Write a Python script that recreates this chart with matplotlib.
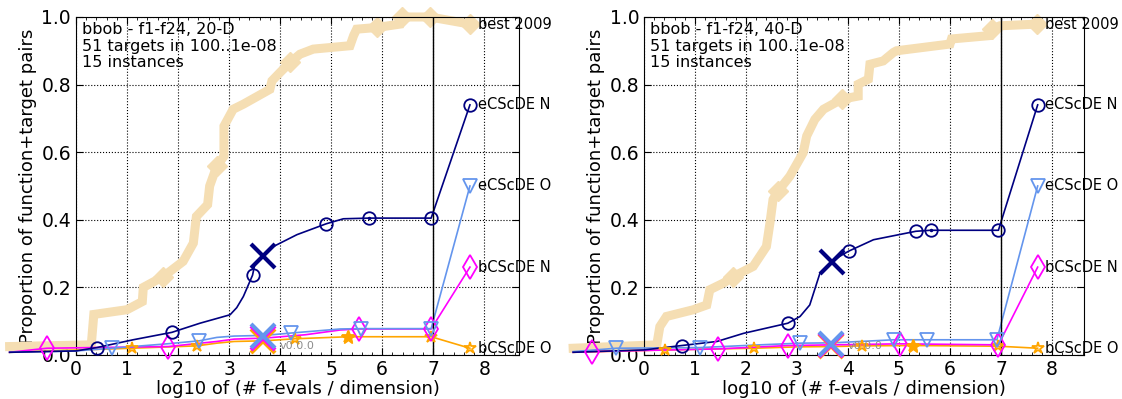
import numpy as np
import matplotlib
matplotlib.use('Agg')
import matplotlib.pyplot as plt
from matplotlib.ticker import MultipleLocator

# ---- data (x = log10(#f-evals / dim), y = proportion) ----
panel_titles = ['bbob - f1-f24, 20-D', 'bbob - f1-f24, 40-D']
panel_info = '51 targets in 100..1e-08\n15 instances'

label_names = ['best 2009', 'eCScDE N', 'eCScDE O', 'bCScDE N', 'bCScDE O']
label_y = [0.979, 0.74, 0.50, 0.26, 0.02]

# 20-D
best20_x = [-1.3, 0.3, 0.35, 1.0, 1.3, 1.32, 1.71, 2.1, 2.3, 2.36, 2.58, 2.62, 2.76, 2.9,
            2.9, 3.08, 3.28, 3.8, 3.84, 4.0, 4.2, 4.39, 4.65, 5.37, 5.44, 5.5, 5.9, 6.35,
            6.39, 6.94, 7.72]
best20_y = [0.025, 0.03, 0.12, 0.134, 0.158, 0.2, 0.232, 0.277, 0.331, 0.41, 0.445, 0.5,
            0.559, 0.588, 0.677, 0.727, 0.742, 0.786, 0.811, 0.836, 0.866, 0.89, 0.905,
            0.915, 0.945, 0.964, 0.969, 0.979, 1.0, 1.0, 0.979]
best20_mx = [1.71, 2.76, 4.2, 5.9, 6.39, 6.94, 7.72]
best20_my = [0.232, 0.559, 0.866, 0.969, 1.0, 1.0, 0.979]

eN20_x = [-1.3, 0.0, 0.41, 1.12, 1.88, 2.43, 3.02, 3.15, 3.28, 3.46, 3.51, 3.67, 3.87,
          4.33, 4.9, 5.24, 5.75, 6.96, 7.72]
eN20_y = [0.008, 0.012, 0.022, 0.045, 0.067, 0.094, 0.119, 0.14, 0.173, 0.236, 0.272,
          0.294, 0.321, 0.356, 0.388, 0.403, 0.405, 0.405, 0.74]
eN20_mx = [0.41, 1.88, 3.46, 4.9, 5.75, 6.96, 7.72]
eN20_my = [0.022, 0.067, 0.236, 0.388, 0.405, 0.405, 0.74]

eO20_x = [-1.3, 0.0, 0.7, 1.78, 2.42, 2.76, 3.1, 3.7, 4.22, 5.18, 5.59, 6.96, 7.72]
eO20_y = [0.008, 0.012, 0.02, 0.033, 0.042, 0.052, 0.056, 0.058, 0.065, 0.077, 0.078,
          0.078, 0.5]
eO20_mx = [0.7, 2.42, 4.22, 5.59, 6.96, 7.72]
eO20_my = [0.02, 0.042, 0.065, 0.078, 0.078, 0.5]

bN20_x = [-1.3, -0.57, 1.81, 2.76, 3.1, 3.7, 4.5, 5.18, 5.54, 6.96, 7.72]
bN20_y = [0.008, 0.02, 0.025, 0.04, 0.047, 0.05, 0.06, 0.074, 0.077, 0.077, 0.26]
bN20_mx = [-0.57, 1.81, 5.54, 6.96, 7.72]
bN20_my = [0.02, 0.025, 0.077, 0.077, 0.26]

bO20_x = [-1.3, 1.09, 2.37, 2.76, 3.1, 3.7, 4.29, 5.34, 6.96, 7.72]
bO20_y = [0.008, 0.02, 0.027, 0.035, 0.04, 0.042, 0.048, 0.054, 0.054, 0.02]
bO20_mx = [1.09, 2.37, 4.29, 5.34, 6.96, 7.72]
bO20_my = [0.02, 0.027, 0.048, 0.054, 0.054, 0.02]

# median budget crosses, 20-D: eN, eO, bN, bO
cross20_x = [3.67, 3.67, 3.67, 3.67]
cross20_y = [0.294, 0.056, 0.05, 0.042]

# 40-D
best40_x = [-1.39, 0.25, 0.31, 0.44, 0.97, 1.23, 1.29, 1.56, 1.75, 2.14, 2.4, 2.47, 2.53,
            2.63, 2.86, 3.12, 3.19, 3.35, 3.52, 3.88, 4.2, 4.2, 4.4, 4.43, 4.69, 4.89,
            4.95, 6.0, 6.03, 6.78, 6.82, 6.98, 7.7]
best40_y = [0.02, 0.03, 0.084, 0.114, 0.134, 0.148, 0.193, 0.213, 0.232, 0.262, 0.321,
            0.391, 0.46, 0.485, 0.529, 0.598, 0.648, 0.697, 0.727, 0.757, 0.766, 0.801,
            0.816, 0.86, 0.87, 0.895, 0.9, 0.92, 0.935, 0.945, 0.964, 0.974, 0.979]
best40_mx = [1.75, 2.63, 3.88, 6.82, 7.7]
best40_my = [0.232, 0.485, 0.757, 0.964, 0.979]

eN40_x = [-1.39, 0.0, 0.74, 1.43, 1.95, 2.82, 3.06, 3.25, 3.45, 3.68, 3.84, 4.01, 4.5,
          5.33, 5.62, 6.95, 7.72]
eN40_y = [0.008, 0.015, 0.028, 0.04, 0.064, 0.094, 0.114, 0.148, 0.242, 0.274, 0.292,
          0.307, 0.341, 0.366, 0.369, 0.369, 0.74]
eN40_mx = [0.74, 2.82, 4.01, 5.33, 5.62, 6.95, 7.72]
eN40_my = [0.028, 0.094, 0.307, 0.366, 0.369, 0.369, 0.74]

eO40_x = [-1.39, -0.54, 1.1, 2.27, 3.06, 3.7, 4.9, 5.54, 6.92, 7.72]
eO40_y = [0.01, 0.02, 0.022, 0.03, 0.035, 0.036, 0.045, 0.045, 0.045, 0.5]
eO40_mx = [-0.54, 1.1, 3.06, 4.9, 5.54, 6.92, 7.72]
eO40_my = [0.02, 0.022, 0.035, 0.045, 0.045, 0.045, 0.5]

bN40_x = [-1.39, -1.03, 1.46, 2.82, 3.7, 5.02, 6.95, 7.72]
bN40_y = [0.008, 0.01, 0.018, 0.028, 0.03, 0.033, 0.03, 0.26]
bN40_mx = [-1.03, 1.46, 2.82, 5.02, 6.95, 7.72]
bN40_my = [0.01, 0.018, 0.028, 0.033, 0.03, 0.26]

bO40_x = [-1.39, 0.41, 2.16, 3.0, 3.7, 4.27, 5.27, 6.95, 7.72]
bO40_y = [0.008, 0.015, 0.02, 0.024, 0.025, 0.027, 0.028, 0.026, 0.02]
bO40_mx = [0.41, 2.16, 4.27, 5.27, 6.95, 7.72]
bO40_my = [0.015, 0.02, 0.027, 0.028, 0.026, 0.02]

cross40_x = [3.68, 3.66, 3.66, 3.66]
cross40_y = [0.274, 0.032, 0.03, 0.028]

# filled marker that sits on top of the open ones (x of eN dot, x of bO filled star)
dot_x = [5.75, 5.62]
star_x = [5.34, 5.27]

colors = ['navy', 'cornflowerblue', 'magenta', 'orange']
markers = ['o', 'v', 'd', '*']
msizes = [9, 9.5, 12, 9]
best_color = 'wheat'


def draw_panel(ax, title, best, algs, cross, dotx, starx):
    bx, by, bmx, bmy = best
    ax.plot(bx, by, '-', color=best_color, lw=6.5, clip_on=False, zorder=2,
            solid_joinstyle='miter')
    ax.plot(bmx, bmy, 'D', color=best_color, ms=10, clip_on=False, zorder=2)

    # draw in reverse so navy ends on top
    for i in reversed(range(4)):
        lx, ly, mx, my = algs[i]
        ax.plot(lx, ly, '-', color=colors[i], lw=1.2, clip_on=False, zorder=3)
        ax.plot(mx, my, markers[i], ms=msizes[i], mfc='none', mec=colors[i],
                mew=1.3, clip_on=False, zorder=4)
    for i in [3, 2, 1, 0]:
        ax.plot(cross[0][i], cross[1][i], 'x', ms=17, mew=3, color=colors[i],
                clip_on=False, zorder=5)

    # small extra markers drawn over
    i_dot = algs[0][2].index(dotx)
    ax.plot(dotx, algs[0][3][i_dot], '.', ms=3, color='navy', zorder=5)
    i_star = algs[3][2].index(starx)
    ax.plot(starx, algs[3][3][i_star], '*', ms=10, color='orange', zorder=5)

    ax.axvline(7, color='k', lw=1, zorder=3)

    for name, yy in zip(label_names, label_y):
        ax.text(7.87, yy, name, fontsize=10.5, va='center', ha='left', zorder=6,
                clip_on=False)

    ax.text(4.0, 0.028, 'v0.0.0', fontsize=8, color='0.55', va='center', ha='left',
            zorder=6)
    ax.text(0.013, 0.985, title + '\n' + panel_info, transform=ax.transAxes,
            fontsize=11.5, va='top', ha='left', linespacing=1.12, zorder=6)

    ax.set_ylim(0, 1.0)
    ax.xaxis.set_major_locator(MultipleLocator(1))
    ax.xaxis.set_minor_locator(MultipleLocator(0.2))
    ax.yaxis.set_major_locator(MultipleLocator(0.2))
    ax.tick_params(which='both', direction='in', top=True, right=True,
                   labelsize=13.5)
    ax.tick_params(which='major', length=5)
    ax.tick_params(which='minor', length=2.5)
    ax.grid(True, which='major', linestyle=':', color='k', lw=0.8)
    ax.set_axisbelow(True)
    ax.set_xlabel('log10 of (# f-evals / dimension)', fontsize=13, labelpad=1)
    ax.set_ylabel('Proportion of function+target pairs', fontsize=13, labelpad=3)


fig = plt.figure(figsize=(11.22, 3.99), dpi=100)
ax1 = fig.add_axes([0.0677, 0.1103, 0.3948, 0.8471])
ax2 = fig.add_axes([0.574, 0.1103, 0.3922, 0.8471])
ax1.set_xlim(0, 8.68)
ax2.set_xlim(0, 8.63)

draw_panel(ax1, panel_titles[0],
           (best20_x, best20_y, best20_mx, best20_my),
           [(eN20_x, eN20_y, eN20_mx, eN20_my), (eO20_x, eO20_y, eO20_mx, eO20_my),
            (bN20_x, bN20_y, bN20_mx, bN20_my), (bO20_x, bO20_y, bO20_mx, bO20_my)],
           (cross20_x, cross20_y), dot_x[0], star_x[0])
draw_panel(ax2, panel_titles[1],
           (best40_x, best40_y, best40_mx, best40_my),
           [(eN40_x, eN40_y, eN40_mx, eN40_my), (eO40_x, eO40_y, eO40_mx, eO40_my),
            (bN40_x, bN40_y, bN40_mx, bN40_my), (bO40_x, bO40_y, bO40_mx, bO40_my)],
           (cross40_x, cross40_y), dot_x[1], star_x[1])

plt.savefig('out.png', dpi=100)
